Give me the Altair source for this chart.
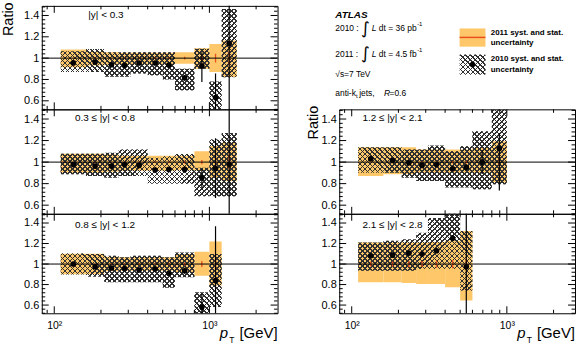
import math
import altair as alt
import pandas as pd

# ---------------- data ----------------
BIN_EDGES = [110, 160, 210, 260, 310, 400, 500, 600, 800, 1000, 1200, 1500]

Y_LABELS = [0.6, 0.8, 1.0, 1.2, 1.4]
Y_MINOR_TICKS = [0.52, 0.56, 0.64, 0.68, 0.72, 0.76, 0.84, 0.88, 0.92, 0.96,
                 1.04, 1.08, 1.12, 1.16, 1.24, 1.28, 1.32, 1.36, 1.44, 1.48]
X_MAJOR_TICKS = [100, 1000]
X_MINOR_TICKS = [90, 200, 300, 400, 500, 600, 700, 800, 900, 2000]
REF_LINE = [1.0]

# |y| < 0.3
A_ratio = [0.955, 0.963, 0.938, 0.932, 0.954, 0.954, 0.935, 0.815, 0.926, 0.631, 1.138]
A_err_dn = [0.006, 0.007, 0.008, 0.009, 0.010, 0.012, 0.016, 0.025, 0.150, 0.250, 1.0]
A_err_up = [0.006, 0.007, 0.008, 0.009, 0.010, 0.012, 0.016, 0.025, 0.130, 0.225, 1.0]
A_sys_lo = [0.870, 0.870, 0.825, 0.825, 0.855, 0.840, 0.800, 0.700, 0.900, 0.450, 0.820]
A_sys_hi = [1.065, 1.085, 1.055, 1.055, 1.055, 1.055, 1.055, 0.900, 1.087, 0.780, 1.460]
A_unc_lo = [0.915, 0.930, 0.935, 0.940, 0.940, 0.940, 0.940, 0.948, 0.900, 0.870, 0.823]
A_unc_hi = [1.080, 1.060, 1.055, 1.050, 1.050, 1.050, 1.050, 1.056, 1.093, 1.133, 1.165]
A_stat11 = [0.003, 0.004, 0.004, 0.005, 0.006, 0.007, 0.009, 0.012, 0.020, 0.040, 0.060]

# 0.3 <= |y| < 0.8
B_ratio = [0.978, 0.963, 0.963, 0.978, 0.969, 0.926, 0.932, 0.932, 0.855, 0.942, 0.978]
B_err_dn = [0.006, 0.007, 0.008, 0.009, 0.010, 0.012, 0.016, 0.030, 0.100, 0.275, 1.0]
B_err_up = [0.006, 0.007, 0.008, 0.009, 0.010, 0.012, 0.016, 0.030, 0.080, 0.280, 1.0]
B_sys_lo = [0.886, 0.871, 0.855, 0.871, 0.871, 0.800, 0.800, 0.800, 0.684, 0.684, 0.684]
B_sys_hi = [1.077, 1.077, 1.086, 1.117, 1.117, 1.040, 1.055, 1.075, 0.947, 1.210, 1.270]
B_unc_lo = [0.900, 0.900, 0.910, 0.920, 0.920, 0.920, 0.920, 0.925, 0.920, 0.855, 0.823]
B_unc_hi = [1.077, 1.077, 1.070, 1.060, 1.060, 1.060, 1.060, 1.060, 1.100, 1.150, 1.180]
B_stat11 = [0.003, 0.004, 0.004, 0.005, 0.006, 0.007, 0.009, 0.012, 0.020, 0.040, 0.060]

# 0.8 <= |y| < 1.2
C_ratio = [1.000, 0.974, 0.961, 0.955, 0.942, 0.952, 0.910, 0.935, 0.580, 0.839]
C_err_dn = [0.006, 0.007, 0.008, 0.009, 0.011, 0.013, 0.017, 0.030, 0.120, 0.530]
C_err_up = [0.006, 0.007, 0.008, 0.009, 0.011, 0.013, 0.017, 0.030, 0.130, 0.530]
C_sys_lo = [0.897, 0.877, 0.823, 0.823, 0.823, 0.823, 0.768, 0.871, 0.450, 0.580]
C_sys_hi = [1.103, 1.097, 1.080, 1.065, 1.080, 1.080, 1.065, 1.113, 0.726, 1.097]
C_unc_lo = [0.900, 0.900, 0.930, 0.935, 0.935, 0.935, 0.935, 0.920, 0.887, 0.790]
C_unc_hi = [1.100, 1.100, 1.070, 1.065, 1.065, 1.065, 1.065, 1.097, 1.120, 1.220]
C_stat11 = [0.003, 0.004, 0.005, 0.006, 0.007, 0.008, 0.010, 0.015, 0.030, 0.050]

# 1.2 <= |y| < 2.1
D_ratio = [1.031, 1.015, 0.994, 0.969, 0.978, 0.938, 0.951, 1.000, 1.126]
D_err_dn = [0.006, 0.007, 0.008, 0.010, 0.012, 0.015, 0.030, 0.110, 0.390]
D_err_up = [0.006, 0.007, 0.008, 0.010, 0.012, 0.015, 0.030, 0.110, 0.145]
D_sys_lo = [0.900, 0.900, 0.855, 0.825, 0.825, 0.763, 0.763, 0.748, 0.794]
D_sys_hi = [1.138, 1.138, 1.117, 1.117, 1.154, 1.100, 1.148, 1.286, 1.490]
D_unc_lo = [0.871, 0.886, 0.886, 0.900, 0.900, 0.900, 0.900, 0.900, 0.810]
D_unc_hi = [1.138, 1.138, 1.138, 1.117, 1.117, 1.117, 1.117, 1.130, 1.194]
D_stat11 = [0.004, 0.005, 0.006, 0.007, 0.008, 0.010, 0.013, 0.020, 0.035]

# 2.1 <= |y| < 2.8
E_ratio = [1.081, 1.087, 1.106, 1.097, 1.129, 1.252, 0.974]
E_err_dn = [0.010, 0.012, 0.015, 0.018, 0.020, 0.030, 1.0]
E_err_up = [0.010, 0.012, 0.015, 0.018, 0.020, 0.030, 1.0]
E_sys_lo = [0.935, 0.935, 0.935, 0.952, 0.952, 0.952, 0.742]
E_sys_hi = [1.210, 1.226, 1.242, 1.306, 1.450, 1.500, 1.323]
E_unc_lo = [0.823, 0.823, 0.815, 0.806, 0.806, 0.774, 0.645]
E_unc_hi = [1.210, 1.210, 1.210, 1.210, 1.215, 1.226, 1.323]
E_stat11 = [0.025, 0.025, 0.030, 0.030, 0.035, 0.040, 0.050]

# ---------------- style ----------------
X_DOMAIN = [83.1, 2750]
Y_DOMAIN = [0.52, 1.49]
W = 237
FONT = "Liberation Sans"
ORANGE = "#FDC76A"
RED = "#E8501E"
HATCH = "#303030"
CLEAR = "rgba(255,255,255,0)"
PERIOD = 5.0
LINE_W = 1.7

xscale = alt.Scale(type="log", domain=X_DOMAIN, nice=False)
yscale = alt.Scale(domain=Y_DOMAIN, nice=False, zero=False)


def px_x(v):
    l0, l1 = math.log10(X_DOMAIN[0]), math.log10(X_DOMAIN[1])
    return (math.log10(v) - l0) / (l1 - l0) * W


def px_y(v, H):
    return (Y_DOMAIN[1] - v) / (Y_DOMAIN[1] - Y_DOMAIN[0]) * H


def hatch_gradient(x0, y0, w, h, family):
    w = max(w, 0.5)
    h = max(h, 0.5)
    span = w + h
    k = span / (w * w + h * h)
    if family == "a":
        g = {"gradient": "linear", "x1": 0, "y1": 0, "x2": round(k * w, 5), "y2": round(k * h, 5)}
        phase = (-(x0 + y0)) % PERIOD
    else:
        g = {"gradient": "linear", "x1": 0, "y1": 1, "x2": round(k * w, 5), "y2": round(1 - k * h, 5)}
        phase = (h - x0 + y0) % PERIOD
    stops = []
    pos = phase - PERIOD
    while pos < span:
        s = max(pos, 0.0)
        e = min(pos + LINE_W, span)
        if e > s:
            so, eo = round(s / span, 5), round(e / span, 5)
            stops += [{"offset": so, "color": CLEAR}, {"offset": so, "color": HATCH},
                      {"offset": eo, "color": HATCH}, {"offset": eo, "color": CLEAR}]
        pos += PERIOD
    g["stops"] = stops
    return g


def txt(s, x, y, size, align="left", baseline="middle", font=FONT, **kw):
    return alt.Chart(alt.Data(values=[{}])).mark_text(
        text=s, align=align, baseline=baseline, fontSize=size, font=font, color="black", **kw
    ).encode(x=alt.value(x), y=alt.value(y))


def make_panel(label, label_xy, ratio, err_dn, err_up, sys_lo, sys_hi, unc_lo, unc_hi, stat11,
               H, title_x=None, bottom=False):
    n = len(ratio)
    rows = []
    for i in range(n):
        lo_e, hi_e = BIN_EDGES[i], BIN_EDGES[i + 1]
        x0p = px_x(lo_e)
        wp = px_x(hi_e) - x0p
        y0p = px_y(sys_hi[i], H)
        hp = px_y(sys_lo[i], H) - y0p
        rows.append({
            "xlo": lo_e, "xhi": hi_e, "xc": math.sqrt(lo_e * hi_e),
            "r": ratio[i], "elo": ratio[i] - err_dn[i], "ehi": ratio[i] + err_up[i],
            "slo": sys_lo[i], "shi": sys_hi[i], "ulo": unc_lo[i], "uhi": unc_hi[i],
            "stlo": 1 - stat11[i], "sthi": 1 + stat11[i],
            "ga": hatch_gradient(x0p, y0p, wp, hp, "a"),
            "gb": hatch_gradient(x0p, y0p, wp, hp, "b"),
        })
    data = alt.Data(values=rows)

    yaxis_kw = dict(values=Y_LABELS, format="~g", labelFontSize=11, labelFont=FONT, labelColor="black",
                    labelPadding=3, ticks=False, tickSize=0, domain=False, grid=False)
    if title_x is not None:
        yaxis_kw.update(title="Ratio", titleFont=FONT, titleFontSize=14.5, titleFontWeight="normal",
                        titleColor="black", titleAngle=270, titleAlign="right", titleBaseline="top",
                        titleX=title_x, titleY=-4)
    else:
        yaxis_kw.update(title=None)
    yaxis = alt.Axis(**yaxis_kw)
    if bottom:
        xaxis = alt.Axis(values=X_MAJOR_TICKS, labelExpr="datum.value == 100 ? '10²' : '10³'",
                         labelFontSize=10.5, labelFont=FONT, labelColor="black", labelBaseline="alphabetic",
                         labelPadding=15, ticks=False, tickSize=0, domain=False, grid=False, title=None)
    else:
        xaxis = None

    def X(f):
        return alt.X(f, scale=xscale, axis=xaxis)

    def Y(f):
        return alt.Y(f, scale=yscale, axis=yaxis)

    base = alt.Chart(data)
    layers = []
    # 2011 uncertainty band
    layers.append(base.mark_rect(color=ORANGE, clip=True).encode(
        x=X("xlo:Q"), x2="xhi:Q", y=Y("ulo:Q"), y2="uhi:Q"))
    # 2010 uncertainty hatch (two diagonal families)
    for g in ("ga", "gb"):
        layers.append(base.mark_rect(clip=True).encode(
            x=X("xlo:Q"), x2="xhi:Q", y=Y("slo:Q"), y2="shi:Q",
            fill=alt.Fill(g + ":N", scale=None)))
    # 2011 stat error
    layers.append(base.mark_rule(color=RED, strokeWidth=1.3, clip=True).encode(
        x=X("xc:Q"), y=Y("stlo:Q"), y2="sthi:Q"))
    # reference line at 1
    layers.append(alt.Chart(pd.DataFrame({"ref": REF_LINE})).mark_rule(color="black", strokeWidth=1).encode(
        y=Y("ref:Q")))
    # 2010 points with stat error
    layers.append(base.mark_rule(color="black", strokeWidth=1.2, clip=True).encode(
        x=X("xc:Q"), y=Y("elo:Q"), y2="ehi:Q"))
    layers.append(base.mark_circle(color="black", opacity=1, size=32, clip=True).encode(
        x=X("xc:Q"), y=Y("r:Q")))
    # ticks (inside, all four sides)
    for vals, L in ((Y_LABELS, 7), (Y_MINOR_TICKS, 3.5)):
        d = pd.DataFrame({"v": vals})
        layers.append(alt.Chart(d).mark_rule(color="black", strokeWidth=1).encode(
            y=Y("v:Q"), x=alt.value(0), x2=alt.value(L)))
        layers.append(alt.Chart(d).mark_rule(color="black", strokeWidth=1).encode(
            y=Y("v:Q"), x=alt.value(W - L), x2=alt.value(W)))
    for vals, L in ((X_MAJOR_TICKS, 7), (X_MINOR_TICKS, 3.5)):
        d = pd.DataFrame({"v": vals})
        layers.append(alt.Chart(d).mark_rule(color="black", strokeWidth=1).encode(
            x=X("v:Q"), y=alt.value(H - L), y2=alt.value(H)))
        layers.append(alt.Chart(d).mark_rule(color="black", strokeWidth=1).encode(
            x=X("v:Q"), y=alt.value(0), y2=alt.value(L)))
    # panel label
    layers.append(txt(label, label_xy[0], label_xy[1], 10))
    if bottom:
        layers.append(txt("p", 179, 124.5, 15, baseline="alphabetic", fontStyle="italic"))
        layers.append(txt("T", 188.5, 130, 8.5, baseline="alphabetic"))
        layers.append(txt("[GeV]", W, 124.5, 15, align="right", baseline="alphabetic"))
    return alt.layer(*layers).properties(width=W, height=H)


pA = make_panel("|y| < 0.3", (46.7, 8.7), A_ratio, A_err_dn, A_err_up, A_sys_lo, A_sys_hi,
                A_unc_lo, A_unc_hi, A_stat11, 104, title_x=-40)
pB = make_panel("0.3 ≤ |y| < 0.8", (33.3, 8.7), B_ratio, B_err_dn, B_err_up, B_sys_lo, B_sys_hi,
                B_unc_lo, B_unc_hi, B_stat11, 105)
pC = make_panel("0.8 ≤ |y| < 1.2", (33.3, 11), C_ratio, C_err_dn, C_err_up, C_sys_lo, C_sys_hi,
                C_unc_lo, C_unc_hi, C_stat11, 100, bottom=True)
pD = make_panel("1.2 ≤ |y| < 2.1", (23.3, 8.7), D_ratio, D_err_dn, D_err_up, D_sys_lo, D_sys_hi,
                D_unc_lo, D_unc_hi, D_stat11, 105, title_x=-33)
pE = make_panel("2.1 ≤ |y| < 2.8", (23.3, 11), E_ratio, E_err_dn, E_err_up, E_sys_lo, E_sys_hi,
                E_unc_lo, E_unc_hi, E_stat11, 100, bottom=True)

# ---------------- legend / ATLAS text panel ----------------
leg = []
leg.append(txt("ATLAS", -4, 8.7, 10, fontWeight="bold", fontStyle="italic"))
for row_y, year, lumi in ((22.7, "2010 :", "dt = 36 pb"), (48.0, "2011 :", "dt = 4.5 fb")):
    leg.append(txt(year, -4, row_y, 8.5))
    leg.append(txt("∫", 22, row_y + 0.8, 17, font="DejaVu Sans"))
    leg.append(txt("L", 32.7, row_y, 8.5, fontStyle="italic"))
    leg.append(txt(lumi, 39.8, row_y, 8.5))
    leg.append(txt("-1", 78.3, row_y - 4, 6))
leg.append(txt("√s=7 TeV", -4, 68.7, 8.5))
leg.append(txt("anti-k", -4, 87.7, 8.5))
leg.append(txt("t", 16.8, 90.5, 6))
leg.append(txt("jets,", 20, 87.7, 8.5))
leg.append(txt("R", 45, 87.7, 8.5, fontStyle="italic"))
leg.append(txt("=0.6", 50.5, 87.7, 8.5))
one = alt.Data(values=[{}])
leg.append(alt.Chart(one).mark_rect(color=ORANGE).encode(
    x=alt.value(121), x2=alt.value(147), y=alt.value(22.7), y2=alt.value(41)))
leg.append(alt.Chart(one).mark_rule(color=RED, strokeWidth=1.5).encode(
    x=alt.value(121), x2=alt.value(147), y=alt.value(31.7)))
for fam in ("a", "b"):
    leg.append(alt.Chart(one).mark_rect(fill=hatch_gradient(0, 0, 26, 20, fam)).encode(
        x=alt.value(121), x2=alt.value(147), y=alt.value(49), y2=alt.value(69)))
leg.append(alt.Chart(one).mark_circle(color="black", opacity=1, size=32).encode(
    x=alt.value(134), y=alt.value(59)))
leg.append(txt("2011 syst. and stat.", 152.3, 27.0, 8, fontWeight="bold"))
leg.append(txt("uncertainty", 152.3, 37.3, 8, fontWeight="bold"))
leg.append(txt("2010 syst. and stat.", 152.3, 53.7, 8, fontWeight="bold"))
leg.append(txt("uncertainty", 152.3, 64.3, 8, fontWeight="bold"))
legend = alt.layer(*leg).properties(width=W, height=104, view=alt.ViewBackground(stroke="transparent"))

left = alt.vconcat(pA, pB, pC, spacing=0, bounds="flush")
right = alt.vconcat(legend, pD, pE, spacing=0, bounds="flush")
chart = alt.hconcat(left, right, spacing=26).properties(
    padding={"left": 0, "top": 0, "right": 0, "bottom": 0}
).configure_view(stroke="black", strokeWidth=1)

chart.save("out.html", embed_options={"renderer": "svg", "actions": False})
